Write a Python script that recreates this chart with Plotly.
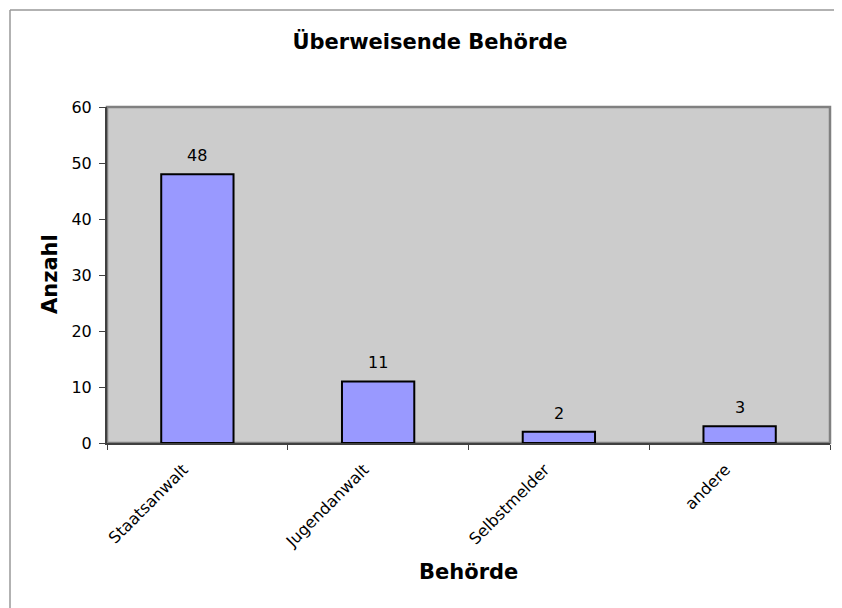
import plotly.graph_objects as go

categories = ["Staatsanwalt", "Jugendanwalt", "Selbstmelder", "andere"]
values = [48, 11, 2, 3]
y_ticks = [0, 10, 20, 30, 40, 50, 60]

# page is offset by 8px (body margin); work in figure coords
OFF = 8
W, H = 842 - OFF, 608 - OFF
L, T = 107 - OFF, 107 - OFF
R = W - (830 - OFF)
B = H - (443 - OFF)
pw, ph = W - L - R, H - T - B


def px(x):
    """page x -> paper x"""
    return (x - OFF - L) / pw


def py(y):
    """page y -> paper y"""
    return (H - B - (y - OFF)) / ph


FONT = "DejaVu Sans"

fig = go.Figure()
fig.add_trace(go.Bar(
    x=categories, y=values,
    marker=dict(color="#9999FF", line=dict(color="black", width=2)),
    width=0.4,
))

for c, v in zip(categories, values):
    fig.add_annotation(x=c, y=v, text=str(v), showarrow=False,
                       yanchor="bottom", yshift=7,
                       font=dict(family=FONT, size=16, color="black"))

# axis titles
fig.add_annotation(xref="paper", yref="paper", x=px(50), y=py(274),
                   text="<b>Anzahl</b>", textangle=-90, showarrow=False,
                   xanchor="center", yanchor="middle",
                   font=dict(family=FONT, size=21, color="black"))
fig.add_annotation(xref="paper", yref="paper", x=px(468), y=py(572),
                   text="<b>Behörde</b>", showarrow=False,
                   xanchor="center", yanchor="middle",
                   font=dict(family=FONT, size=21, color="black"))

# chart frame (top and left visible)
fig.add_shape(type="line", xref="paper", yref="paper",
              x0=px(10), x1=px(860), y0=py(10), y1=py(10),
              line=dict(color="#999999", width=1.5))
fig.add_shape(type="line", xref="paper", yref="paper",
              x0=px(10), x1=px(10), y0=py(10), y1=py(620),
              line=dict(color="#999999", width=1.5))
# plot area border
fig.add_shape(type="rect", xref="paper", yref="paper",
              x0=0, x1=1, y0=0, y1=1,
              line=dict(color="#808080", width=2.5), layer="below")

fig.update_layout(
    width=W, height=H,
    margin=dict(l=L, r=R, t=T, b=B, autoexpand=False),
    paper_bgcolor="white", plot_bgcolor="#CCCCCC",
    showlegend=False,
    font=dict(family=FONT, size=16, color="black"),
    title=dict(text="<b>Überweisende Behörde</b>", x=(430 - OFF) / W,
               xanchor="center", y=1 - (42 - OFF) / H, yanchor="middle",
               font=dict(family=FONT, size=21, color="black")),
    xaxis=dict(
        tickangle=-45, ticks="outside", ticklen=5, tickcolor="#404040",
        tickson="boundaries", showline=True, linecolor="#404040", linewidth=2,
        showgrid=False, automargin=False,
        ticklabelshift=-14, ticklabelstandoff=9,
        tickfont=dict(family=FONT, size=16),
    ),
    yaxis=dict(
        range=[0, 60], tickvals=y_ticks, ticks="outside", ticklen=6,
        tickcolor="#404040", showline=True, linecolor="#404040", linewidth=2,
        showgrid=False, zeroline=False, automargin=False,
        ticklabelstandoff=4,
        tickfont=dict(family=FONT, size=16),
    ),
    bargap=0.6,
)

fig.write_html("out.html")
